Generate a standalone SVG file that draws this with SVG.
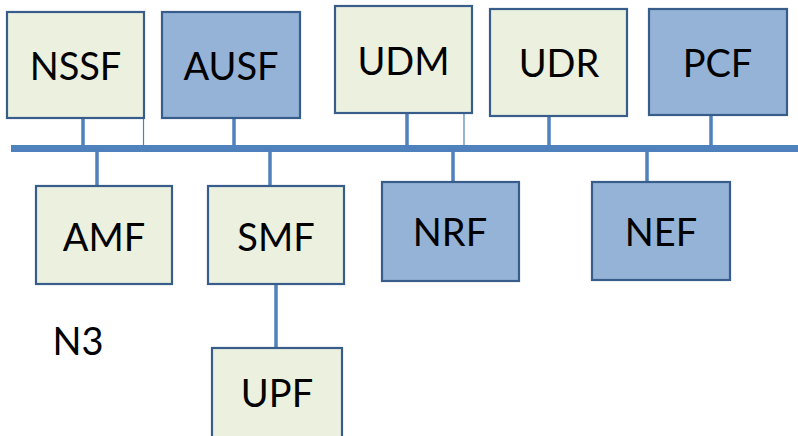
<svg xmlns="http://www.w3.org/2000/svg" width="798" height="436" viewBox="0 0 798 436">
<style>
.g{fill:#EBF1DE;stroke:#385D8A;stroke-width:2.2}
.b{fill:#95B3D7;stroke:#385D8A;stroke-width:2.2}
.t{font-family:Lato,"Liberation Sans",sans-serif;font-size:38px;fill:#000;text-anchor:middle}
.c{stroke:#4F81BD;stroke-width:3.5;fill:none}
.th{stroke:#4F81BD;stroke-width:1.2;fill:none}
</style>
<rect width="798" height="436" fill="#fff"/>
<g id="connectors">
<line class="c" x1="11" y1="148.5" x2="798" y2="148.5" style="stroke-width:7"/>
<line class="c" x1="83" y1="118" x2="83" y2="146"/>
<line class="th" x1="143.5" y1="118" x2="143.5" y2="146"/>
<line class="c" x1="234" y1="118" x2="234" y2="146"/>
<line class="c" x1="407" y1="113" x2="407" y2="146"/>
<line class="th" x1="464" y1="113" x2="464" y2="146"/>
<line class="c" x1="549" y1="116" x2="549" y2="146"/>
<line class="c" x1="711" y1="115" x2="711" y2="146"/>
<line class="c" x1="97" y1="151" x2="97" y2="186"/>
<line class="c" x1="270" y1="151" x2="270" y2="186"/>
<line class="c" x1="453" y1="151" x2="453" y2="182"/>
<line class="c" x1="647" y1="151" x2="647" y2="182"/>
<line class="c" x1="276" y1="284" x2="276" y2="348"/>
</g>
<g id="NSSF"><rect class="g" x="7" y="12" width="137" height="106"/><text class="t" x="75.5" y="80">NSSF</text></g>
<g id="AUSF"><rect class="b" x="162" y="12" width="138" height="106"/><text class="t" x="231" y="80">AUSF</text></g>
<g id="UDM"><rect class="g" x="335" y="6" width="137" height="107"/><text class="t" x="403.5" y="75">UDM</text></g>
<g id="UDR"><rect class="g" x="490" y="9" width="137" height="107"/><text class="t" x="559" y="77">UDR</text></g>
<g id="PCF"><rect class="b" x="649" y="9" width="138" height="106"/><text class="t" x="717.5" y="77">PCF</text></g>
<g id="AMF"><rect class="g" x="36" y="186" width="136" height="98"/><text class="t" x="104" y="251">AMF</text></g>
<g id="SMF"><rect class="g" x="208" y="186" width="136" height="98"/><text class="t" x="276" y="251">SMF</text></g>
<g id="NRF"><rect class="b" x="382" y="182" width="137" height="99"/><text class="t" x="450" y="246">NRF</text></g>
<g id="NEF"><rect class="b" x="592" y="182" width="138" height="98"/><text class="t" x="661" y="246">NEF</text></g>
<g id="UPF"><rect class="g" x="212" y="348" width="130" height="100"/><text class="t" x="277" y="407">UPF</text></g>
<g id="N3"><text class="t" x="78" y="355">N3</text></g>
</svg>
